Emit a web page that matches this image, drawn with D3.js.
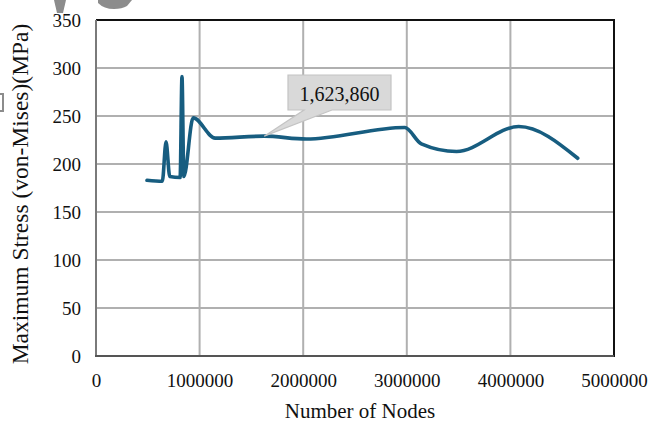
<!DOCTYPE html>
<html>
<head>
<meta charset="utf-8">
<script src="https://cdn.jsdelivr.net/npm/d3@7"></script>
<style>
  html, body { margin: 0; padding: 0; background: #fff; }
  svg { display: block; font-family: "Liberation Serif", "Times New Roman", serif; }
</style>
</head>
<body>
<svg id="chart" width="650" height="425"></svg>
<script>
// Mesh convergence study: max von-Mises stress against node count
const nodes  = [492000, 640000, 676000, 712000, 812000, 830000, 848000, 938000, 1150000, 1623860, 2030000, 2980000, 3140000, 3480000, 4080000, 4650000];
const stress = [183,    182,    223,    187,    186,    291,    187,    248,    227,     229,     226,     238,     221,     213,     239,     206];

const xTicks = [0, 1000000, 2000000, 3000000, 4000000, 5000000];
const yTicks = [0, 50, 100, 150, 200, 250, 300, 350];
const calloutNode = 1623860;
const calloutText = "1,623,860";

const svg = d3.select("#chart");
const x = d3.scaleLinear().domain([0, 5000000]).range([96, 614]);
const y = d3.scaleLinear().domain([0, 350]).range([356, 20]);

// gridlines
svg.append("g").selectAll("line.v").data(xTicks.slice(1, -1)).join("line")
  .attr("x1", d => x(d)).attr("x2", d => x(d))
  .attr("y1", y(350)).attr("y2", y(0))
  .attr("stroke", "#b0b0b0").attr("stroke-width", 2);
svg.append("g").selectAll("line.h").data(yTicks.slice(1, -1)).join("line")
  .attr("x1", x(0)).attr("x2", x(5000000))
  .attr("y1", d => y(d)).attr("y2", d => y(d))
  .attr("stroke", "#b0b0b0").attr("stroke-width", 2);

// plot frame
svg.append("line").attr("x1", x(0)).attr("x2", x(5000000)).attr("y1", y(350)).attr("y2", y(350))
  .attr("stroke", "#111").attr("stroke-width", 2);
svg.append("line").attr("x1", x(5000000)).attr("x2", x(5000000)).attr("y1", y(350) - 1).attr("y2", y(0) + 1)
  .attr("stroke", "#111").attr("stroke-width", 2);
svg.append("line").attr("x1", x(0)).attr("x2", x(0)).attr("y1", y(350)).attr("y2", y(0))
  .attr("stroke", "#7a7a7a").attr("stroke-width", 2);
svg.append("line").attr("x1", x(0) - 1).attr("x2", x(5000000)).attr("y1", y(0)).attr("y2", y(0))
  .attr("stroke", "#555").attr("stroke-width", 2);

// axes (labels only)
const yAxis = svg.append("g").attr("transform", `translate(${x(0) - 15},0)`)
  .call(d3.axisLeft(y).tickValues(yTicks).tickSize(0).tickPadding(0));
yAxis.select(".domain").remove();
yAxis.attr("font-family", null);
yAxis.selectAll("text").attr("font-size", 19).attr("fill", "#111");

const xAxis = svg.append("g").attr("transform", `translate(0,${y(0) + 17})`)
  .call(d3.axisBottom(x).tickValues(xTicks).tickFormat(d3.format("d")).tickSize(0).tickPadding(0));
xAxis.select(".domain").remove();
xAxis.attr("font-family", null);
xAxis.selectAll("text").attr("font-size", 19).attr("fill", "#111");

// axis titles
svg.append("text").attr("x", 360).attr("y", 418).attr("text-anchor", "middle")
  .attr("font-size", 21).attr("fill", "#111").text("Number of Nodes");
svg.append("text").attr("transform", "translate(28,194) rotate(-90)").attr("text-anchor", "middle")
  .attr("font-size", 23.5).attr("fill", "#111").text("Maximum Stress (von-Mises)(MPa)");

// data line
const pts = nodes.map((n, i) => [n, stress[i]]);
svg.append("path").datum(pts)
  .attr("fill", "none").attr("stroke", "#175d80").attr("stroke-width", 3.6)
  .attr("stroke-linejoin", "round").attr("stroke-linecap", "round")
  .attr("d", d3.line().x(d => x(d[0])).y(d => y(d[1])).curve(d3.curveMonotoneX));

// callout for the selected mesh
const ci = nodes.indexOf(calloutNode);
const px = x(calloutNode), py = y(stress[ci]);
const bx0 = 288, bx1 = 391, by0 = 75, by1 = 110;
svg.append("path")
  .attr("d", `M${bx0},${by0}H${bx1}V${by1}H${bx0 + 44}L${px},${py}L${bx0 + 16},${by1}H${bx0}Z`)
  .attr("fill", "#d9d9d9").attr("stroke", "#c4c4c4").attr("stroke-width", 1.2);
svg.append("text").attr("x", (bx0 + bx1) / 2).attr("y", 101).attr("text-anchor", "middle")
  .attr("font-size", 20).attr("fill", "#111").text(calloutText);

// clipped fragments along the top-left edge
svg.append("path").attr("d", "M54,0H66L63,13H57Z").attr("fill", "#8c8c8c");
svg.append("path").attr("d", "M98,0H132L127,6Q122,9 114,9Q104,9 98,3Z").attr("fill", "#8c8c8c");
svg.append("path").attr("d", "M0,93H4V112H0V110H2V95H0Z").attr("fill", "#8c8c8c");
</script>
</body>
</html>
